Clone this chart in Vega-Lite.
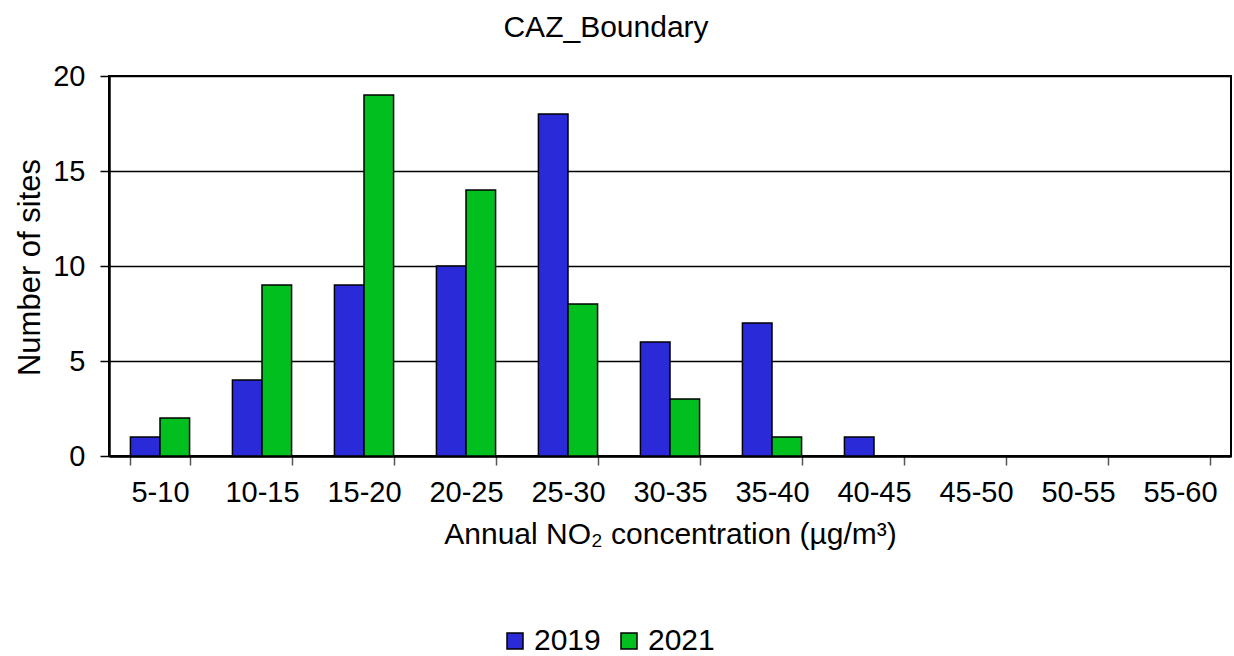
{
  "$schema": "https://vega.github.io/schema/vega-lite/v6.json",
  "width": 1122,
  "height": 380,
  "autosize": {"type": "none"},
  "padding": {"left": 109, "top": 76, "right": 3, "bottom": 200},
  "background": "white",
  "title": {
    "text": "CAZ_Boundary",
    "font": "Liberation Sans",
    "fontSize": 30,
    "fontWeight": "normal",
    "color": "black",
    "anchor": "middle",
    "baseline": "alphabetic",
    "offset": -5,
    "dx": -64
  },
  "config": {
    "view": {"stroke": "black", "strokeWidth": 2},
    "font": "Liberation Sans"
  },
  "data": {
    "values": [
      {"bin": "5-10", "year": "2019", "sites": 1},
      {"bin": "5-10", "year": "2021", "sites": 2},
      {"bin": "10-15", "year": "2019", "sites": 4},
      {"bin": "10-15", "year": "2021", "sites": 9},
      {"bin": "15-20", "year": "2019", "sites": 9},
      {"bin": "15-20", "year": "2021", "sites": 19},
      {"bin": "20-25", "year": "2019", "sites": 10},
      {"bin": "20-25", "year": "2021", "sites": 14},
      {"bin": "25-30", "year": "2019", "sites": 18},
      {"bin": "25-30", "year": "2021", "sites": 8},
      {"bin": "30-35", "year": "2019", "sites": 6},
      {"bin": "30-35", "year": "2021", "sites": 3},
      {"bin": "35-40", "year": "2019", "sites": 7},
      {"bin": "35-40", "year": "2021", "sites": 1},
      {"bin": "40-45", "year": "2019", "sites": 1},
      {"bin": "40-45", "year": "2021", "sites": 0},
      {"bin": "45-50", "year": "2019", "sites": 0},
      {"bin": "45-50", "year": "2021", "sites": 0},
      {"bin": "50-55", "year": "2019", "sites": 0},
      {"bin": "50-55", "year": "2021", "sites": 0},
      {"bin": "55-60", "year": "2019", "sites": 0},
      {"bin": "55-60", "year": "2021", "sites": 0}
    ]
  },
  "mark": {"type": "bar", "stroke": "black", "strokeWidth": 1.5},
  "encoding": {
    "x": {
      "field": "bin",
      "type": "nominal",
      "sort": null,
      "scale": {"paddingInner": 0.42, "paddingOuter": 0.21},
      "axis": {
        "title": "Annual NO₂ concentration (µg/m³)",
        "titleFont": "Liberation Sans",
        "titleFontSize": 30,
        "titleFontWeight": "normal",
        "titleColor": "black",
        "titleBaseline": "alphabetic",
        "titleY": 87,
        "labelAngle": 0,
        "labelFont": "Liberation Sans",
        "labelFontSize": 29,
        "labelColor": "black",
        "labelPadding": 13,
        "tickBand": "extent",
        "tickSize": 9,
        "tickColor": "#555555",
        "tickWidth": 1.5,
        "domainColor": "black",
        "domainWidth": 2.5,
        "grid": false
      }
    },
    "xOffset": {"field": "year", "type": "nominal", "scale": {"paddingInner": 0, "paddingOuter": 0}},
    "y": {
      "field": "sites",
      "type": "quantitative",
      "scale": {"domain": [0, 20]},
      "axis": {
        "title": "Number of sites",
        "titleFont": "Liberation Sans",
        "titleFontSize": 31,
        "titleFontWeight": "normal",
        "titleColor": "black",
        "titleAngle": -90,
        "titleBaseline": "alphabetic",
        "titleAlign": "center",
        "titleX": -70,
        "titleY": 191,
        "values": [0, 5, 10, 15, 20],
        "labelFont": "Liberation Sans",
        "labelFontSize": 29,
        "labelColor": "black",
        "labelPadding": 15,
        "tickSize": 9,
        "tickColor": "black",
        "tickWidth": 1.5,
        "domainColor": "black",
        "domainWidth": 2.5,
        "grid": true,
        "gridColor": "black",
        "gridWidth": 1.5
      }
    },
    "fill": {
      "field": "year",
      "type": "nominal",
      "scale": {"domain": ["2019", "2021"], "range": ["#2A2AD8", "#00BF1F"]},
      "legend": {
        "title": null,
        "orient": "none",
        "direction": "horizontal",
        "legendX": 391,
        "legendY": 550,
        "symbolType": "square",
        "symbolSize": 256,
        "symbolStrokeColor": "black",
        "symbolStrokeWidth": 1.5,
        "labelFont": "Liberation Sans",
        "labelFontSize": 30,
        "labelColor": "black",
        "labelOffset": 4,
        "columnPadding": 13
      }
    }
  }
}
